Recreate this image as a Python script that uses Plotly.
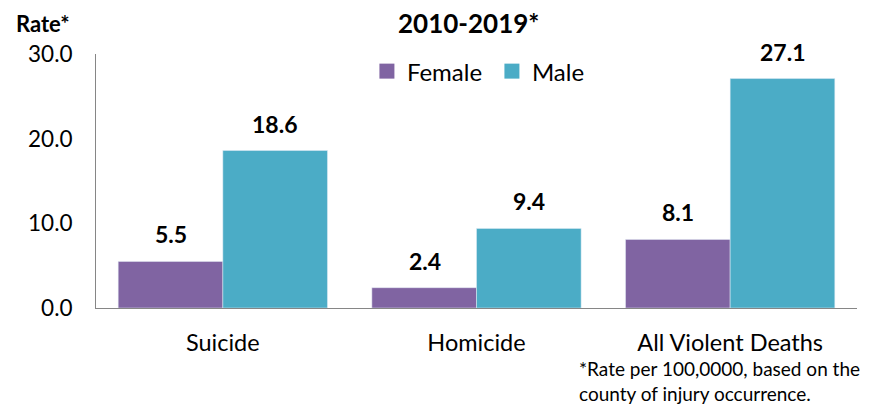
import plotly.graph_objects as go

categories = ["Suicide", "Homicide", "All Violent Deaths"]
female = [5.5, 2.4, 8.1]
male = [18.6, 9.4, 27.1]
y_ticks = [0, 10, 20, 30]
y_tick_labels = ["0.0", "10.0", "20.0", "30.0"]

FEMALE_C = "#8064A2"
MALE_C = "#4BACC6"
FONT = "Lato, 'Open Sans', sans-serif"

fig = go.Figure()
fig.add_trace(go.Bar(x=categories, y=female, name="Female", marker_color=FEMALE_C,
                     showlegend=False))
fig.add_trace(go.Bar(x=categories, y=male, name="Male", marker_color=MALE_C,
                     showlegend=False))
# legend entries with square markers
fig.add_trace(go.Scatter(x=[None], y=[None], mode="markers", name="Female",
                         marker=dict(symbol="square", size=15, color=FEMALE_C)))
fig.add_trace(go.Scatter(x=[None], y=[None], mode="markers", name="Male",
                         marker=dict(symbol="square", size=15, color=MALE_C)))

annotations = []
for cat, f, m in zip(categories, female, male):
    annotations.append(dict(x=cat, y=f, text=f"<b>{f:.1f}</b>", showarrow=False,
                            xshift=-52, yshift=27, yanchor="middle",
                            font=dict(size=23, color="black", family=FONT)))
    annotations.append(dict(x=cat, y=m, text=f"<b>{m:.1f}</b>", showarrow=False,
                            xshift=52, yshift=27, yanchor="middle",
                            font=dict(size=23, color="black", family=FONT)))

annotations.append(dict(xref="paper", yref="paper", x=-0.108, y=1.0, xanchor="left",
                        yanchor="middle", text="<b>Rate*</b>", showarrow=False,
                        yshift=31,
                        font=dict(size=22, color="black", family=FONT)))
annotations.append(dict(xref="paper", yref="paper", x=0.49, y=1.0, xanchor="center",
                        yanchor="middle", text="<b>2010-2019*</b>", showarrow=False,
                        yshift=31,
                        font=dict(size=26, color="black", family=FONT)))
annotations.append(dict(xref="paper", yref="paper", x=0.632, y=-0.287, xanchor="left",
                        yanchor="middle", align="left",
                        text="*Rate per 100,0000, based on the<br>county of injury occurrence.",
                        showarrow=False,
                        font=dict(size=19, color="black", family=FONT)))

fig.update_layout(
    width=861, height=400,
    margin=dict(l=88, r=12, t=46, b=100),
    paper_bgcolor="white", plot_bgcolor="white",
    barmode="group", bargap=0.175, bargroupgap=0,
    font=dict(family=FONT, color="black", size=22),
    legend=dict(orientation="h", x=0.356, xanchor="left", y=0.931, yanchor="middle",
                font=dict(size=24, color="black", family=FONT),
                itemwidth=30, entrywidth=80, entrywidthmode="pixels",
                bgcolor="rgba(0,0,0,0)"),
    annotations=annotations,
)
fig.update_xaxes(showline=True, linecolor="#868686", linewidth=1,
                 ticks="outside", ticklen=14, tickcolor="rgba(0,0,0,0)",
                 showgrid=False, tickfont=dict(size=23.5, color="black", family=FONT))
fig.update_yaxes(range=[0, 30], tickvals=y_ticks, ticktext=y_tick_labels,
                 showline=True, linecolor="#868686", linewidth=1,
                 showgrid=False, zeroline=False, ticklabelstandoff=18,
                 tickfont=dict(size=22.5, color="black", family=FONT))

fig.write_html("out.html")
